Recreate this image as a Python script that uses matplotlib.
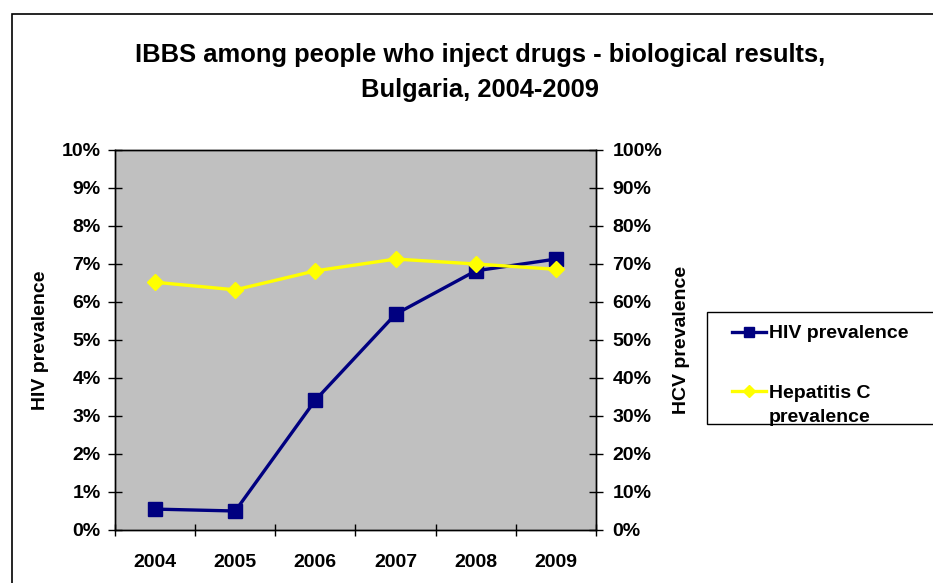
import matplotlib
matplotlib.use("Agg")
import matplotlib.pyplot as plt
from matplotlib.patches import Rectangle
from matplotlib.lines import Line2D
from matplotlib.ticker import FuncFormatter, MultipleLocator

plt.rcParams['font.family'] = ['Liberation Sans', 'DejaVu Sans']
plt.rcParams['font.weight'] = 'bold'

years = ['2004', '2005', '2006', '2007', '2008', '2009']
hiv_prevalence = [0.55, 0.50, 3.42, 5.68, 6.82, 7.13]      # percent, left axis
hcv_prevalence = [65.2, 63.2, 68.2, 71.3, 70.0, 68.6]      # percent, right axis

HIV_COLOR = '#000080'
HCV_COLOR = '#FFFF00'
W, H = 933, 583

fig = plt.figure(figsize=(W / 100, H / 100), dpi=100)

# outer chart frame
fig.patches.append(Rectangle((12 / W, -0.1), 1.2, (H - 14) / H + 0.1,
                             transform=fig.transFigure, fill=False,
                             edgecolor='black', linewidth=1.2))

ax = fig.add_axes([115 / W, 53 / H, 481 / W, 380 / H])
ax.set_facecolor('#C0C0C0')
ax2 = ax.twinx()

x = list(range(len(years)))
ax.plot(x, hiv_prevalence, color=HIV_COLOR, marker='s', markersize=10,
        linewidth=2.4, zorder=3)
ax2.plot(x, hcv_prevalence, color=HCV_COLOR, marker='D', markersize=8,
         linewidth=2.4, zorder=3)

ax.set_xlim(-0.5, len(years) - 0.5)
ax.set_ylim(0, 10)
ax2.set_ylim(0, 100)
ax.yaxis.set_major_locator(MultipleLocator(1))
ax2.yaxis.set_major_locator(MultipleLocator(10))
pct = FuncFormatter(lambda v, p: f'{v:.0f}%')
ax.yaxis.set_major_formatter(pct)
ax2.yaxis.set_major_formatter(pct)

# category boundaries as major ticks, year labels centred as minor ticks
ax.set_xticks([i + 0.5 for i in range(-1, len(years))])
ax.set_xticklabels([])
ax.set_xticks(x, minor=True)
ax.set_xticklabels(years, minor=True)
ax.tick_params(axis='x', which='minor', length=0, pad=17, labelsize=14)
ax.tick_params(axis='x', which='major', direction='inout', length=8.6, width=1)
ax.tick_params(axis='y', direction='inout', length=10.5, width=1, labelsize=14, pad=5)
ax2.tick_params(axis='y', direction='inout', length=10.5, width=1, labelsize=14, pad=6.5)

for a in (ax, ax2):
    for s in a.spines.values():
        s.set_linewidth(1.0)

ax.set_ylabel('HIV prevalence', fontsize=14, fontweight='bold', labelpad=9)
ax2.set_ylabel('HCV prevalence', fontsize=14, fontweight='bold', labelpad=8)

fig.text(480 / W, 1 - 62 / H, 'IBBS among people who inject drugs - biological results,',
         ha='center', va='baseline', fontsize=18.4, fontweight='bold')
fig.text(480 / W, 1 - 97 / H, 'Bulgaria, 2004-2009',
         ha='center', va='baseline', fontsize=18.4, fontweight='bold')

# legend box: handle line with marker, label lines to the right
fig.patches.append(Rectangle((707 / W, 1 - 424 / H), 0.3, 112 / H,
                             transform=fig.transFigure, fill=True, facecolor='white',
                             edgecolor='black', linewidth=1.0))
legend_entries = [
    (HIV_COLOR, 's', 7, 332, ['HIV prevalence']),
    (HCV_COLOR, 'D', 6, 391, ['Hepatitis C', 'prevalence']),
]
for color, marker, msize, ypx, lines in legend_entries:
    yf = 1 - ypx / H
    fig.lines.append(Line2D([732 / W, 766 / W], [yf, yf], transform=fig.transFigure,
                            color=color, linewidth=2.4))
    fig.lines.append(Line2D([749 / W], [yf], transform=fig.transFigure, color=color,
                            marker=marker, markersize=msize, linestyle='none'))
    for k, text in enumerate(lines):
        fig.text(769 / W, 1 - (ypx + 24 * k) / H, text, ha='left',
                 va='center_baseline', fontsize=14, fontweight='bold')

fig.savefig('out.png', dpi=100)
